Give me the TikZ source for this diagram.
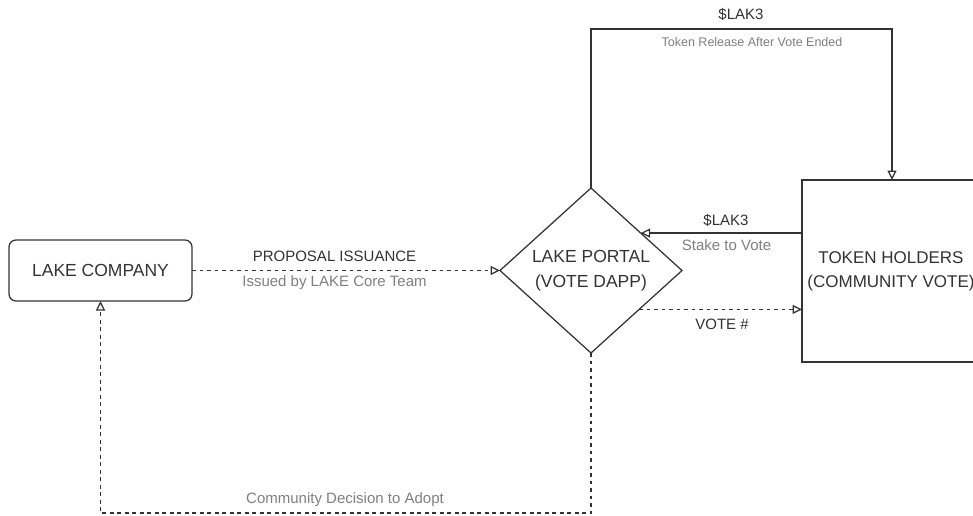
\documentclass[tikz,border=0pt]{standalone}
\usepackage{fontspec}
\setmainfont{Liberation Sans}
\usetikzlibrary{arrows.meta,shapes.geometric}
\definecolor{linec}{HTML}{333333}
\definecolor{textc}{HTML}{333333}
\definecolor{lblgray}{HTML}{808080}
\begin{document}
\begin{tikzpicture}[x=1pt,y=-1pt,
  every node/.style={inner sep=0pt, outer sep=0pt},
  nodetext/.style={font=\fontsize{17.5}{25}\selectfont, text=textc, align=center},
  box/.style={draw=linec, line width=1.25pt, nodetext},
  lbl/.style={font=\fontsize{15}{18}\selectfont, text=textc},
  sublbl/.style={font=\fontsize{15}{18}\selectfont, text=lblgray},
  conn/.style={draw=linec, line width=1.25pt, -{Triangle[open, length=9.5pt, width=9pt]}},
  dconn/.style={conn, dash pattern=on 3.75pt off 3.75pt},
]
\useasboundingbox (0,0) rectangle (973,515);
\clip (0,0) rectangle (973,515);
\fill[white] (0,0) rectangle (973,515);

\node[box, rounded corners=7pt, minimum width=183pt, minimum height=61pt] (lc) at (100.5,270.5) {LAKE COMPANY};
\node[box, diamond, minimum width=182pt, minimum height=165pt, aspect=1.1] (portal) at (591,270.5) {LAKE PORTAL\\(VOTE DAPP)};
\node[box, font=\fontsize{17}{24}\selectfont, minimum width=178pt, minimum height=182pt] (th) at (891,271) {TOKEN HOLDERS\\(COMMUNITY VOTE)};

% proposal
\draw[dconn] (lc.east) -- (portal.west);
\node[lbl] (l1) at (334.5,256) {PROPOSAL ISSUANCE};
\node[sublbl] (l2) at (334.5,283) {Issued by LAKE Core Team};

% token release loop
\coordinate (tl) at (892,29);
\draw[conn] (portal.north) |- (tl) -- (tl |- th.north);
\node[lbl] (l3) at (741,14) {\$LAK3};
\node[sublbl, font=\fontsize{12.5}{15}\selectfont] (l4) at (752,42) {Token Release After Vote Ended};

% stake
\draw[conn] (th.west |- portal.37) -- (portal.37);
\node[lbl] (l5) at (726,220) {\$LAK3};
\node[sublbl] (l6) at (726.5,245) {Stake to Vote};

% vote
\draw[dconn] (portal.-39) -- (portal.-39 -| th.west);
\node[lbl] (l7) at (722,324) {VOTE \#};

% decision
\coordinate (bl) at (100.5,513);
\draw[dconn] (portal.south) |- (bl) -- (lc.south);
\node[sublbl] (l8) at (345,500) {Community Decision to Adopt};
\end{tikzpicture}
\end{document}
